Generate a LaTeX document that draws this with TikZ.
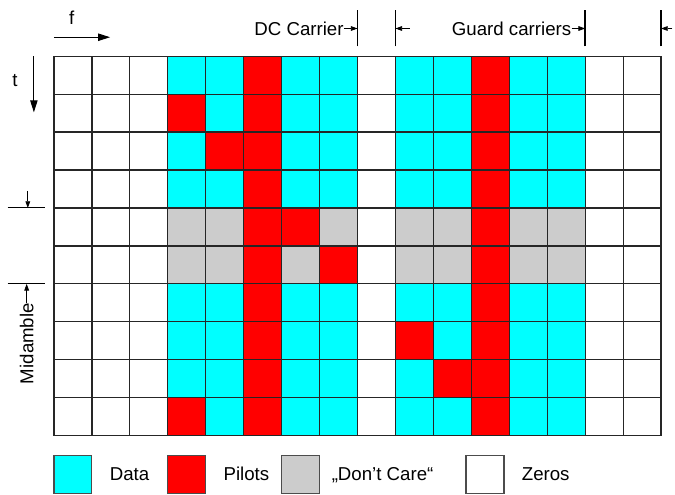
\documentclass[tikz,border=0pt]{standalone}
\usepackage{fontspec}
\setmainfont{Liberation Sans}
\usetikzlibrary{arrows.meta,positioning}
\definecolor{datacyan}{RGB}{0,255,255}
\definecolor{pilotred}{RGB}{255,0,0}
\definecolor{carelight}{RGB}{204,204,204}

\begin{document}
\begin{tikzpicture}[
    lbl/.style={font=\fontsize{14}{16}\selectfont, inner sep=0pt, text height=10pt, text depth=0pt},
    cellline/.style={draw=black!85, line width=0.9pt},
    marker/.style={line width=1.2pt},
    thinmarker/.style={line width=0.8pt},
    small tip/.style={-{Triangle[length=5pt,width=3.5pt]}, line width=0.6pt},
    big tip/.style={-{Triangle[length=9pt,width=5.5pt]}, line width=0.8pt},
    keybox/.style={draw=black!70, line width=0.8pt, minimum size=1cm, inner sep=0pt},
    node distance=0.45cm
  ]
  \useasboundingbox (-1.423,1.481) rectangle (16.368,-11.56);

  % Data columns
  \foreach \col in {3,4,6,7,9,10,12,13}
    \fill[datacyan] (\col,0) rectangle (\col+1,-10);
  % Midamble rows
  \foreach \col in {3,4,6,7,9,10,12,13}
    \fill[carelight] (\col,-4) rectangle (\col+1,-6);
  % Pilot columns
  \foreach \col in {5,11}
    \fill[pilotred] (\col,0) rectangle (\col+1,-10);
  % Scattered pilots (column/row)
  \foreach \col/\row in {3/1,4/2,6/4,7/5,9/7,10/8,3/9}
    \fill[pilotred] (\col,-\row) rectangle (\col+1,-\row-1);

  % Grid
  \draw[cellline] (0,0) grid (16,-10);

  % Frequency and time
  \node[lbl] (f) at (0.47,1.02) {f};
  \coordinate (fA) at (0,0.5);
  \coordinate (fB) at (1.48,0.5);
  \draw[big tip] (fA) -- (fB);
  \node[lbl] (t) at (-1.03,-0.63) {t};
  \coordinate (tA) at (-0.53,0);
  \coordinate (tB) at (-0.53,-1.48);
  \draw[big tip] (tA) -- (tB);

  % DC carrier and guard carriers
  \foreach \x in {8,9,14,16} {
    \coordinate (top\x) at (\x,0.73);
    \draw[marker] (\x,0.26) -- (\x,1.22);
  }
  \node[lbl, anchor=east] (dc) at (7.64,0.73) {DC Carrier};
  \draw[small tip] (dc.east) -- (top8);
  \coordinate (dcB) at (9.38,0.73);
  \draw[small tip] (dcB) -- (top9);
  \node[lbl, anchor=east] (guard) at (13.64,0.73) {Guard carriers};
  \draw[small tip] (guard.east) -- (top14);
  \coordinate (guardB) at (16.3,0.73);
  \draw[small tip] (guardB) -- (top16);

  % Midamble
  \draw[thinmarker] (-1.22,-4) -- (-0.24,-4);
  \draw[thinmarker] (-1.22,-6) -- (-0.24,-6);
  \coordinate (midA) at (-0.69,-3.55);
  \coordinate (midB) at (-0.69,-4);
  \draw[small tip] (midA) -- (midB);
  \node[lbl, rotate=90, anchor=east] (mid) at (-0.72,-6.5) {Midamble};
  \coordinate (midC) at (-0.72,-6);
  \draw[small tip] (mid.east) -- (midC);

  % Legend
  \node[keybox, fill=datacyan] (kData) at (0.5,-11.02) {};
  \node[lbl, right=of kData] (tData) {Data};
  \node[keybox, fill=pilotred] (kPilot) at (3.5,-11.02) {};
  \node[lbl, right=of kPilot] (tPilot) {Pilots};
  \node[keybox, fill=carelight] (kCare) at (6.5,-11.02) {};
  \node[lbl, right=0.3cm of kCare] (tCare) {„Don’t Care“};
  \node[keybox, fill=white] (kZero) at (11.36,-11.02) {};
  \node[lbl, right=of kZero] (tZero) {Zeros};
\end{tikzpicture}
\end{document}
